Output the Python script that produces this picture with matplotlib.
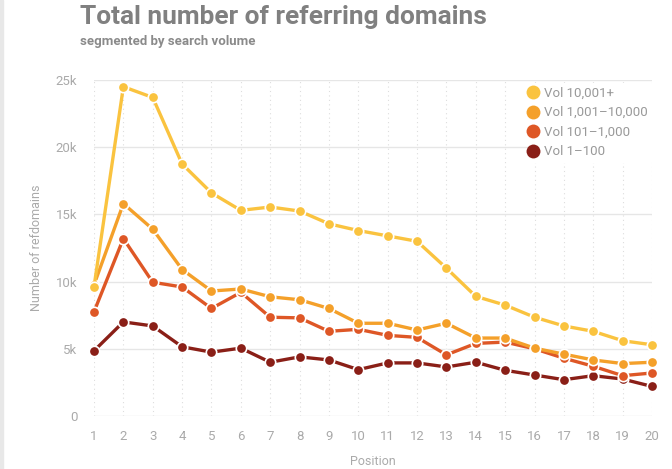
import matplotlib.pyplot as plt
from matplotlib.ticker import FuncFormatter

# Data
positions = list(range(1, 21))
vol_10001 = [9600, 24500, 23700, 18750, 16600, 15300, 15550, 15250, 14300, 13800,
             13400, 13000, 11000, 8900, 8250, 7350, 6700, 6300, 5600, 5300]
vol_1001 = [9750, 15800, 13900, 10900, 9300, 9450, 8870, 8650, 8000, 6900,
            6900, 6400, 6900, 5800, 5800, 5050, 4600, 4170, 3900, 4000]
vol_101 = [7750, 13200, 9950, 9600, 8000, 9200, 7350, 7300, 6300, 6450,
           6000, 5850, 4550, 5400, 5500, 5000, 4300, 3700, 3000, 3200]
vol_1 = [4850, 7000, 6700, 5150, 4750, 5050, 4000, 4400, 4170, 3450,
         3950, 3950, 3650, 4000, 3400, 3050, 2700, 3000, 2750, 2200]

series_labels = ['Vol 10,001+', 'Vol 1,001\u201310,000', 'Vol 101\u20131,000', 'Vol 1\u2013100']
series_colors = ['#FAC33F', '#F4A02A', '#DE5726', '#8A1F17']
y_ticks = [0, 5000, 10000, 15000, 20000, 25000]

plt.rcParams['font.family'] = ['Roboto', 'DejaVu Sans']

fig = plt.figure(figsize=(6.72, 4.69), dpi=100)
ax = fig.add_axes([94 / 672, 1 - 416 / 469, 558 / 672, 336 / 469])

all_series = [vol_10001, vol_1001, vol_101, vol_1]
# draw the lowest series first so the top one sits above
for values, label, color in reversed(list(zip(all_series, series_labels, series_colors))):
    ax.plot(positions, values, color=color, lw=2.4, marker='o', ms=7.5,
            mfc=color, mec='white', mew=1.2, label=label, clip_on=False, zorder=3)

ax.set_xlim(1, 20)
ax.set_ylim(0, 25000)
ax.set_xticks(positions)
ax.set_yticks(y_ticks)
ax.yaxis.set_major_formatter(FuncFormatter(lambda v, p: '0' if v == 0 else '%dk' % (v / 1000)))

for s in ax.spines.values():
    s.set_visible(False)
ax.tick_params(length=0, colors='#aaaaaa', labelsize=9.5)
ax.tick_params(axis='x', pad=10)
ax.tick_params(axis='y', pad=12)

ax.grid(axis='y', color='#e6e6e6', lw=1, zorder=0)
for x in positions:
    ax.axvline(x, color='#dddddd', lw=0.8, ls=(0, (1, 3)), zorder=0)

ax.set_xlabel('Position', color='#aaaaaa', fontsize=9, labelpad=9)
ax.set_ylabel('Number of refdomains', color='#aaaaaa', fontsize=9, labelpad=9)

handles, labels = ax.get_legend_handles_labels()
leg = fig.legend(handles[::-1], labels[::-1], loc='upper left',
                 bbox_to_anchor=(522 / 672, 1 - 76 / 469),
                 frameon=True, facecolor='white', edgecolor='white', framealpha=1,
                 fontsize=9.5, handlelength=0, handletextpad=0.9, labelspacing=0.5,
                 borderpad=0.3)
for line in leg.get_lines():
    line.set_linestyle('none')
    line.set_markersize(10)
    line.set_markeredgewidth(0)
for t in leg.get_texts():
    t.set_color('#999999')

fig.text(80 / 672, 1 - 17 / 469, 'Total number of referring domains', fontsize=18.9,
         fontweight='bold', color='#808080', va='center', ha='left')
fig.text(80 / 672, 1 - 41 / 469, 'segmented by search volume', fontsize=9.5,
         fontweight='bold', color='#8a8a8a', va='center', ha='left')

# thin grey strip on the left edge
fig.patches.append(plt.Rectangle((0, 0), 3 / 672, 1, transform=fig.transFigure,
                                 color='#e8e8e8', zorder=0))

fig.savefig('out.png', dpi=100)
